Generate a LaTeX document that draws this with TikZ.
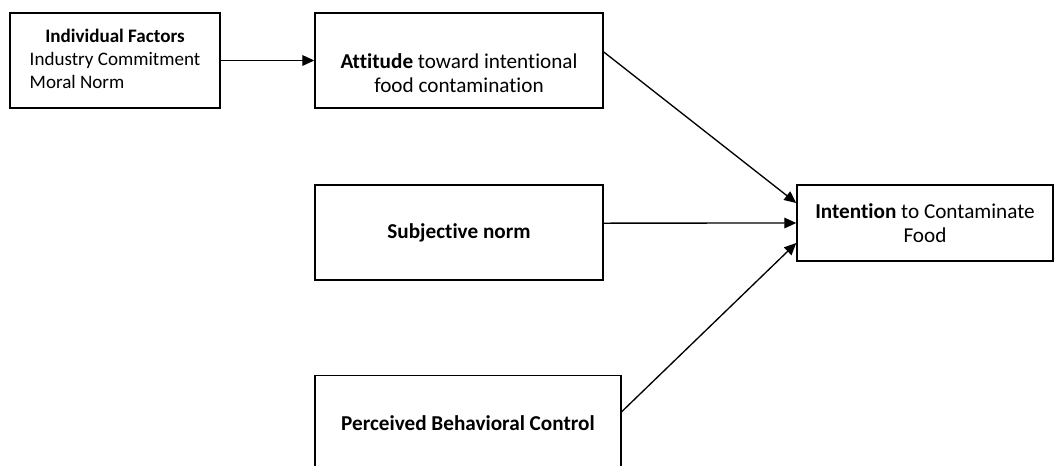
\documentclass[tikz,border=0pt]{standalone}
\usepackage{fontspec}
\setmainfont{Carlito}[Ligatures=NoCommon]
\usetikzlibrary{arrows.meta}

\begin{document}
\begin{tikzpicture}
		[x=0.75pt, y=-0.75pt,
		factor/.style={draw, line width=1.1pt, align=center, inner sep=0pt,
			font=\fontsize{15.9}{18.5}\selectfont},
		path/.style={line width=1pt, -{Triangle[length=9pt, width=8pt]}}]
			\clip (0,0) rectangle (1054,465);
			\node[factor, font=\fontsize{14.3}{17.3}\selectfont, minimum width=157.5pt, minimum height=71.25pt] (IND) at (115,60.5) {\begin{tabular}{@{}l@{}}\multicolumn{1}{@{}c@{}}{\textbf{Individual Factors}}\\ Industry Commitment\\ Moral Norm\end{tabular}};
			\node[factor, minimum width=216pt, minimum height=71.25pt] (ATT) at (459,60.5) {};
			\node[font=\fontsize{15.9}{17.5}\selectfont, align=center] at ([yshift=-9.5pt]ATT.center) {\textbf{Attitude} toward intentional\\ food contamination};
			\node[factor, minimum width=216pt, minimum height=71.25pt] (SN) at (459,232.5) {\textbf{Subjective norm}};
			\node[factor, minimum width=229.5pt, minimum height=71.25pt] (PBC) at (468,423) {\textbf{Perceived Behavioral Control}};
			\node[factor, minimum width=192pt, minimum height=57pt] (INT) at (925,223) {\textbf{Intention} to Contaminate\\ Food};
			\draw[path] (IND) -- (ATT);
			\draw[path] ([yshift=6.4pt]ATT.east) -- ([yshift=15pt]INT.west);
			\draw[path] ([yshift=7pt]SN.east) -- (INT.west);
			\draw[path] ([yshift=8.5pt]PBC.east) -- ([yshift=-15pt]INT.west);
		\end{tikzpicture}
\end{document}
